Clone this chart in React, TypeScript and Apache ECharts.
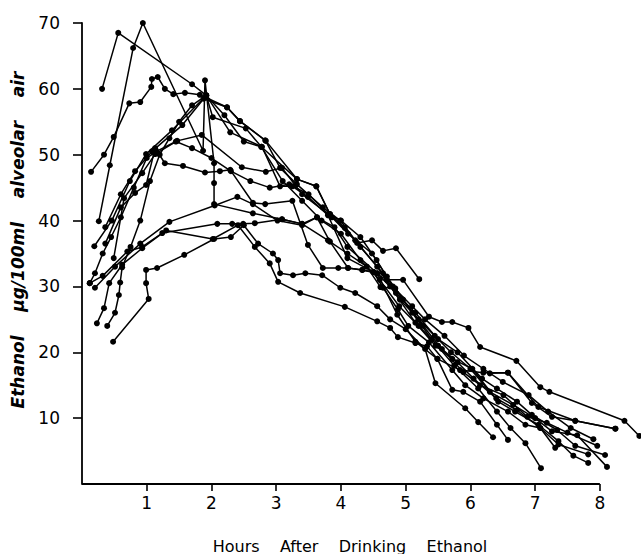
import React, { useEffect, useRef } from "react";
import * as echarts from "echarts";

// Each subject: [hours, µg/100ml] pairs
const subject1 = [[0.14,47.4],[0.34,50],[0.49,52.7],[0.73,57.8],[0.9,58],[1.07,60.3],[1.08,61.5],[1.17,61.8],[1.28,60],[1.41,59.2],[1.59,59.4],[1.82,59.1],[2.24,57.2],[2.44,55.1],[2.84,52.1],[3.32,46.3],[3.62,45.2],[3.83,41],[4.06,38.9],[4.25,36.6],[4.48,37],[4.65,35.4],[4.85,35.8],[5.21,31.1]];
const subject2 = [[0.31,60],[0.56,68.5],[1.7,60.7],[1.92,59],[2.29,53.4],[2.78,51.2],[3.06,45.2],[3.25,45.2],[3.49,43.6],[3.8,40.8],[4.1,34.3],[4.5,32.2],[4.71,31],[4.96,31],[5.36,25.4],[5.56,24.6],[5.72,24.6],[5.97,23.7],[6.15,20.8],[6.71,18.7],[7.08,14.7],[7.22,14],[8.38,9.6],[8.61,7.3]];
const subject3 = [[0.26,39.9],[0.43,48.4],[0.79,66.2],[0.94,70],[1.87,50.6],[1.9,61.3],[2.04,48.7],[2.04,45.7],[2.04,42.5],[2.64,41.1],[3.09,40.2],[3.4,39.5],[3.63,40.5],[3.83,36.8],[4.11,32.8],[4.33,32.5],[4.56,32],[4.87,25.7],[5.15,21.6],[5.49,19],[5.84,17.3],[6.2,16.9],[6.58,16.9],[7.05,11.7],[7.62,9.6],[8.24,8.4]];
const subject4 = [[0.19,36.1],[0.46,40],[0.74,46],[0.99,50.1],[1.39,53.7],[1.92,59],[2.02,55.7],[2.53,54],[2.77,51.2],[3.32,46.3],[3.62,45.2],[3.83,41],[4.22,37],[4.56,33],[4.76,30],[5.15,24.5],[5.46,21],[5.72,19],[6.03,17.5],[6.43,12.5],[6.69,11],[7.05,9],[7.36,6.5],[7.59,4.3],[7.82,3.2]];
const subject5 = [[0.36,39],[0.6,44],[0.82,47.5],[1.08,50.5],[1.55,54.5],[1.88,58.5],[2.24,57.2],[2.44,55.1],[2.83,52.2],[3.06,48],[3.32,45.5],[3.72,42],[3.99,40],[4.3,36],[4.65,32],[4.91,28],[5.2,25],[5.5,22],[5.8,20],[6.18,16],[6.41,14.5],[6.72,12.5],[6.95,10.5],[7.34,8.2],[7.62,5.8],[8.08,4.4]];
const subject6 = [[0.49,34.3],[0.65,43.4],[0.93,47.2],[1.13,50.1],[1.47,52.1],[1.85,53],[2.47,48.1],[2.84,47.4],[3.09,48],[3.4,44],[3.86,40.5],[4.11,38],[4.48,35],[4.71,31.5],[4.96,28],[5.27,24],[5.56,20.5],[5.89,17],[6.15,15],[6.51,13.5],[6.88,10.2],[7.18,9.3],[7.5,7.8],[7.96,5.8]];
const subject7 = [[0.36,36.5],[0.6,42],[0.82,44.2],[0.99,45.4],[1.13,51],[1.28,48.7],[1.56,48.3],[1.9,47.3],[2.13,47.5],[2.29,47.7],[2.64,42.7],[2.83,42.5],[3.25,43],[3.49,36.3],[3.72,32.8],[3.96,32.8],[4.11,32.8],[4.33,32.5],[4.5,32.2],[4.65,29.8],[4.88,26.5],[5.04,24],[5.36,21.5],[5.72,17.3],[5.92,15],[6.2,13],[6.58,11],[6.85,9],[7.08,8.5],[7.31,5.5]];
const subject8 = [[0.2,29.8],[0.51,33],[0.9,36.5],[1.35,39.8],[2.05,42.3],[2.4,43.6],[2.64,42.5],[3.02,40],[3.4,39.3],[3.63,40.5],[3.9,39],[4.1,36],[4.56,32],[4.85,29],[5.15,26],[5.45,22.5],[5.7,20],[6.0,17.5],[6.3,14],[6.66,12],[7.0,10],[7.26,8],[7.65,7.4],[8.11,2.6]];
const subject9 = [[0.12,30.5],[0.32,31.6],[0.7,35.3],[0.93,36],[1.24,38.1],[2.09,39.5],[2.32,39.5],[2.49,39.5],[2.67,39.6],[3.09,40.2],[3.4,39.5],[3.8,37],[4.1,35],[4.4,33],[4.61,29.9],[4.84,29.7],[5.1,26],[5.4,22],[5.75,18],[6.12,14.5],[6.41,11],[6.62,8.5],[6.85,6.2],[7.09,2.4]];
const subject10 = [[0.48,21.6],[1.03,28.1],[0.99,30.5],[0.99,32.5],[1.16,32.8],[1.58,34.8],[2.04,37.2],[2.3,37.5],[2.5,39.3],[2.72,36.5],[2.95,35],[3.03,34],[3.06,32],[3.26,31.7],[3.45,32],[3.71,31.7],[3.99,29.8],[4.22,29],[4.56,27],[4.76,25],[5.0,23.5],[5.3,20.5],[5.46,15.3],[5.92,11.5],[6.12,9.4],[6.35,7.1]];
const subject11 = [[0.23,24.4],[0.34,26.7],[0.42,30.5],[0.62,33.3],[0.93,35.8],[1.3,38.5],[2.02,37.2],[2.41,39.3],[2.67,36],[2.9,33.5],[3.03,30.7],[3.37,29],[4.06,26.9],[4.56,24.7],[4.76,23.7],[4.88,22.3],[5.15,21.4],[5.33,20.9],[5.49,19],[5.72,14.3],[5.89,14],[6.15,12.5],[6.41,9],[6.58,6.7]];
const subject12 = [[0.39,24],[0.51,26],[0.57,28.7],[0.59,30.6],[0.62,32.9],[0.75,36],[0.9,40],[1.05,46],[1.2,50],[1.35,52.5],[1.5,55],[1.7,57.5],[1.92,59],[2.2,56],[2.5,52],[2.77,51.2],[3.1,46],[3.4,43],[3.7,40],[4.0,38],[4.3,34],[4.6,31],[4.9,27],[5.2,24],[5.5,21],[5.8,18.5],[6.05,16],[6.4,13],[6.72,11.2],[7.08,8.5],[7.36,6],[7.82,4.5]];
const subject13 = [[0.12,30.5],[0.2,32],[0.32,35],[0.45,37.5],[0.6,40.5],[0.8,45],[1.0,49.5],[1.15,50.5],[1.45,52],[1.7,51],[2.0,49.5],[2.3,47.5],[2.6,46],[2.9,45],[3.2,45.5],[3.5,44],[3.8,41],[4.0,40],[4.3,37.5],[4.55,34],[4.8,30],[5.1,27],[5.3,25],[5.6,22.5],[5.9,19.5],[6.2,17.5],[6.5,15.5],[6.9,13.5],[7.2,11],[7.55,8.5],[7.9,6.8]];
const subject14 = [[6.3,16.8],[6.58,16.9],[6.95,12.3],[7.26,10.2],[7.62,9.6],[8.24,8.4]];

const subjects = [subject1, subject2, subject3, subject4, subject5, subject6, subject7, subject8, subject9, subject10, subject11, subject12, subject13, subject14];

const yTicks = [10, 20, 30, 40, 50, 60, 70];
const xTicks = [1, 2, 3, 4, 5, 6, 7, 8];
const xAxisEnd = 8;
const xTitle = "Hours    After    Drinking    Ethanol";
const yTitle = "Ethanol    µg/100ml    alveolar    air";

export default function App() {
  const ref = useRef<HTMLDivElement>(null);
  useEffect(() => {
    document.body.style.margin = "0";
    if (!ref.current) return;
    const chart = echarts.init(ref.current, undefined, { renderer: "svg" });
    const font = "DejaVu Sans";
    chart.setOption({
      animation: false,
      backgroundColor: "#ffffff",
      grid: { left: 82, right: 1, top: 23, bottom: 70, containLabel: false },
      xAxis: {
        type: "value",
        min: 0,
        max: 8.62,
        splitLine: { show: false },
        axisLine: { show: false },
        axisTick: { show: true, customValues: xTicks, length: 7, lineStyle: { color: "#000", width: 1.6 } },
        axisLabel: { customValues: xTicks, color: "#000", fontSize: 17, fontFamily: font, margin: 10 },
      },
      yAxis: {
        type: "value",
        min: 0,
        max: 70,
        interval: 10,
        splitLine: { show: false },
        axisLine: { lineStyle: { color: "#000", width: 1.8 } },
        axisTick: { customValues: yTicks, length: 9, lineStyle: { color: "#000", width: 1.6 } },
        axisLabel: { customValues: yTicks, color: "#000", fontSize: 17, fontFamily: font, margin: 22 },
      },
      series: subjects.map((d, i) => ({
        type: "line",
        name: "S" + (i + 1),
        data: d,
        clip: false,
        symbol: "circle",
        symbolSize: 6,
        itemStyle: { color: "#000" },
        lineStyle: { color: "#000", width: 1.5 },
      })),
    });
    const [x0, y0] = chart.convertToPixel({ gridIndex: 0 }, [0, 0]) as number[];
    const [x8] = chart.convertToPixel({ gridIndex: 0 }, [xAxisEnd, 0]) as number[];
    chart.setOption({
      graphic: [
        {
          type: "line",
          shape: { x1: x0, y1: y0, x2: x8, y2: y0 },
          style: { stroke: "#000", lineWidth: 1.8 },
        },
        {
          type: "text",
          x: 18,
          y: 240,
          rotation: Math.PI / 2,
          style: {
            text: yTitle,
            fill: "#000",
            font: "italic bold 17px 'DejaVu Sans'",
            align: "center",
            verticalAlign: "middle",
          },
        },
        {
          type: "text",
          x: 350,
          y: 546,
          style: {
            text: xTitle,
            fill: "#000",
            font: "16px 'DejaVu Sans'",
            align: "center",
            verticalAlign: "middle",
          },
        },
      ],
    });
    return () => chart.dispose();
  }, []);
  return <div ref={ref} style={{ width: 641, height: 554 }} />;
}
